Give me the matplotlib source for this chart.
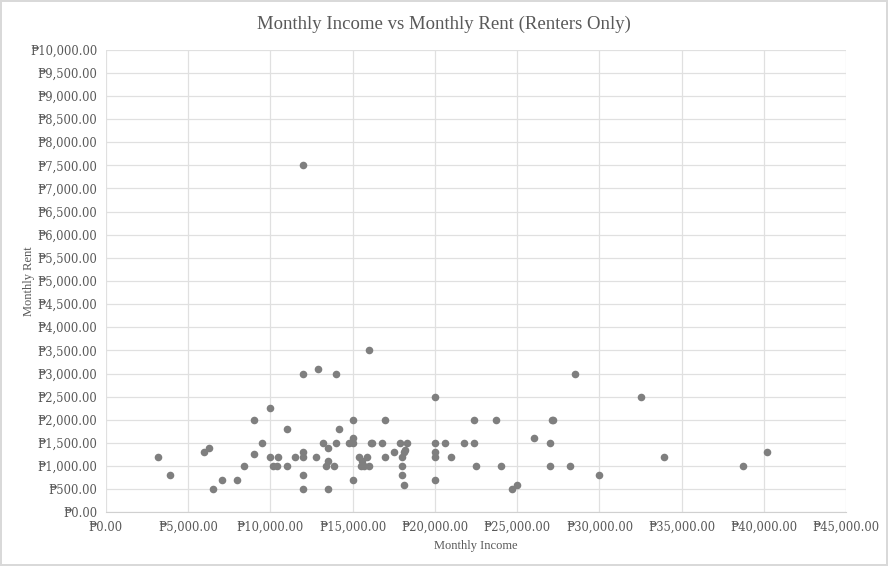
import matplotlib.pyplot as plt
from matplotlib.ticker import FuncFormatter, MultipleLocator

# Renters only: monthly income vs monthly rent (PHP)
income = [3200, 3900, 6000, 6300, 6500, 7100, 8000, 8400, 9000, 9000,
          9500, 10000, 10000, 10200, 10400, 10500, 11000, 11000, 11500, 12000,
          12000, 12000, 12000, 12000, 12000, 12900, 12800, 13200, 13500, 13500,
          13400, 13500, 14000, 14200, 14000, 13900, 14800, 15000, 15000, 15000,
          15000, 15400, 15600, 15500, 15700, 16000, 15900, 16000, 16100, 16200,
          16800, 17000, 17000, 17500, 17900, 18300, 18100, 18200, 18000, 18000,
          18000, 18100, 20000, 20000, 20000, 20000, 20000, 20600, 21000, 21800,
          22400, 22400, 22500, 23700, 24000, 24700, 25000, 26000, 27000, 27000,
          27100, 27200, 28200, 28500, 30000, 32500, 33900, 38700, 40200]
rent = [1200, 800, 1300, 1400, 500, 700, 700, 1000, 2000, 1250,
        1500, 2250, 1200, 1000, 1000, 1200, 1800, 1000, 1200, 7500,
        3000, 1300, 1200, 800, 500, 3100, 1200, 1500, 1400, 1100,
        1000, 500, 3000, 1800, 1500, 1000, 1500, 1600, 2000, 700,
        1500, 1200, 1100, 1000, 1000, 1000, 1200, 3500, 1500, 1500,
        1500, 2000, 1200, 1300, 1500, 1500, 1300, 1350, 1200, 1000,
        800, 600, 2500, 1500, 1300, 1200, 700, 1500, 1200, 1500,
        2000, 1500, 1000, 2000, 1000, 500, 600, 1600, 1500, 1000,
        2000, 2000, 1000, 3000, 800, 2500, 1200, 1000, 1300]

txt = '#595959'
plt.rcParams['font.family'] = ['Liberation Serif', 'DejaVu Serif']

fig = plt.figure(figsize=(8.88, 5.66), dpi=100)
fig.patch.set_edgecolor('#d9d9d9')
fig.patch.set_linewidth(1.5)
ax = fig.add_axes([0.1189, 0.0949, 0.8342, 0.8173])

ax.scatter(income, rent, s=30, color='#7f7f7f', zorder=3, linewidths=0)

ax.set_xlim(0, 45000)
ax.set_ylim(0, 10000)
ax.xaxis.set_major_locator(MultipleLocator(5000))
ax.yaxis.set_major_locator(MultipleLocator(500))
peso = FuncFormatter(lambda v, p: '\u20b1{:,.2f}'.format(v))
ax.xaxis.set_major_formatter(peso)
ax.yaxis.set_major_formatter(peso)

ax.grid(True, color='#e0e0e0', linewidth=0.9, zorder=0)
for s in ['top', 'right', 'left']:
    ax.spines[s].set_visible(False)
ax.spines['bottom'].set_color('#d0d0d0')
ax.tick_params(length=0, labelsize=8.3, labelcolor=txt, pad=6)
for lab in ax.get_xticklabels() + ax.get_yticklabels():
    lab.set_family('DejaVu Serif')

fig.text(0.5, 0.957, 'Monthly Income vs Monthly Rent (Renters Only)',
         fontsize=13.5, color=txt, ha='center', va='center')
ax.set_xlabel('Monthly Income', fontsize=9, color=txt)
ax.set_ylabel('Monthly Rent', fontsize=9, color=txt)
ax.xaxis.set_label_coords(0.5, -0.059)
ax.yaxis.set_label_coords(-0.095, 0.5)

fig.savefig('out.png', dpi=100, edgecolor=fig.get_edgecolor())
